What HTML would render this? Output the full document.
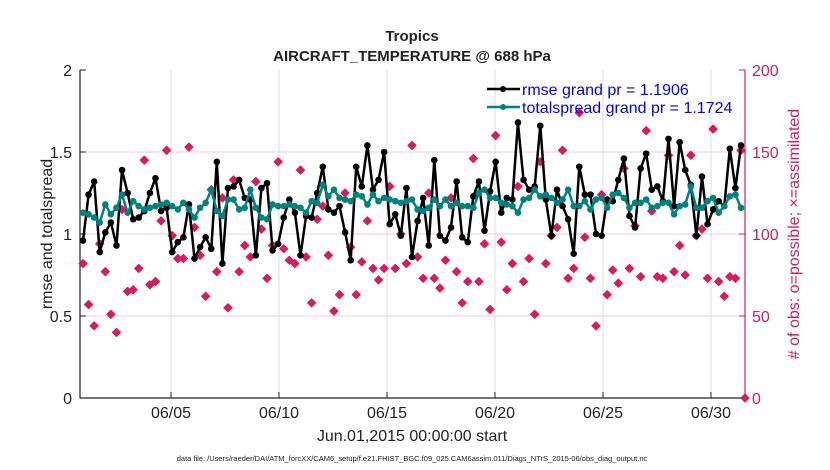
<!DOCTYPE html>
<html><head><meta charset="utf-8"><style>
body{margin:0;background:#fff;}
svg{display:block;font-family:"Liberation Sans",sans-serif;}
</style></head><body>
<svg id="c" width="830" height="470"></svg>
<script>
const rmse=[0.96,1.24,1.32,0.89,1.01,1.07,0.93,1.39,1.25,1.09,1.10,1.14,1.25,1.34,1.14,1.16,0.89,0.95,0.98,1.18,0.85,0.92,0.98,0.91,1.44,0.82,1.28,1.29,1.33,1.22,
1.21,0.87,1.28,1.31,0.90,0.94,1.10,1.21,1.13,0.87,1.11,1.10,1.25,1.41,1.15,1.13,1.17,1.01,0.84,1.41,1.29,1.54,1.27,1.33,1.50,1.06,1.12,0.99,1.28,0.86,1.08,
1.22,0.93,1.45,0.99,0.96,1.04,1.32,0.98,0.95,1.23,1.32,1.02,1.26,1.44,1.13,1.22,1.21,1.68,1.33,1.27,1.29,1.66,1.21,0.99,1.27,1.17,1.09,0.88,1.41,
1.24,1.24,1.00,0.99,1.21,1.20,1.33,1.46,1.11,1.04,1.40,1.49,1.27,1.29,1.20,1.58,1.17,1.56,1.39,1.30,0.99,1.35,1.06,1.15,1.20,1.17,1.52,1.28,1.54];
const spread=[1.13,1.12,1.10,1.07,1.18,1.12,1.16,1.24,1.13,1.20,1.17,1.15,1.16,1.17,1.18,1.19,1.17,1.15,1.19,1.15,1.10,1.16,1.19,1.27,1.14,1.11,1.21,1.21,1.15,1.16,
1.27,1.16,1.10,1.09,1.18,1.17,1.17,1.18,1.17,1.16,1.13,1.20,1.19,1.30,1.23,1.27,1.22,1.21,1.20,1.24,1.23,1.18,1.24,1.20,1.22,1.21,1.20,1.19,1.20,1.21,1.15,
1.14,1.16,1.21,1.17,1.21,1.17,1.19,1.17,1.17,1.16,1.25,1.27,1.22,1.22,1.19,1.18,1.17,1.13,1.21,1.22,1.27,1.23,1.24,1.22,1.19,1.21,1.27,1.17,1.17,
1.20,1.15,1.21,1.22,1.16,1.24,1.25,1.22,1.16,1.19,1.19,1.21,1.16,1.17,1.19,1.19,1.12,1.17,1.18,1.29,1.16,1.16,1.20,1.22,1.13,1.17,1.23,1.24,1.16];
const nobs=[82,57,44,94,77,51,40,115,65,66,79,145,69,71,108,151,99,85,85,153,104,87,62,127,77,122,55,133,77,93,
86,132,103,73,93,144,91,84,82,139,86,58,109,117,87,53,63,125,92,63,83,108,79,72,79,129,79,100,82,154,
86,73,125,73,67,84,122,77,58,71,146,71,94,54,160,95,66,82,129,71,85,51,144,82,99,104,151,73,79,
174,98,73,44,124,63,78,70,140,79,105,74,163,114,74,73,148,77,93,75,148,99,103,73,164,71,62,74,73,151];
const xTickDays=[4,9,14,19,24,29];
const xTickLabels=["06/05","06/10","06/15","06/20","06/25","06/30"];
const yTicks=[0,0.5,1,1.5,2];
const yTickLabels=["0","0.5","1","1.5","2"];
const y2Ticks=[0,50,100,150,200];

const NS="http://www.w3.org/2000/svg",svg=document.getElementById('c');
const L=80,R=745,T=70,B=398;
const X=d=>84.6+21.6*d;
const Y=v=>B-(v/2)*(B-T);
const Y2=v=>B-(v/200)*(B-T);
const PINK="#d81b60";
function mk(tag,a,p){const e=document.createElementNS(NS,tag);for(const k in a)e.setAttribute(k,a[k]);(p||svg).appendChild(e);return e;}
function txt(s,a){const e=mk('text',a);e.textContent=s;return e;}
const tS=(83-84.6)/21.6,tE=(741-84.6)/21.6;
const tAt=(i,n)=>tS+i*(tE-tS)/(n-1);

xTickDays.forEach((d,i)=>{
 const g=mk('line',{x1:X(d),x2:X(d),y1:T,y2:B,stroke:"#dddddd","stroke-width":1});
 
 
 const t=txt(xTickLabels[i],{x:X(d),y:418,"font-size":16,"text-anchor":"middle",fill:"#222"});
 
 
 mk('line',{x1:X(d),x2:X(d),y1:B,y2:B-6,stroke:"#222"});
});
yTicks.forEach((v,i)=>{
 if(v>0&&v<2){const g=mk('line',{x1:L,x2:R,y1:Y(v),y2:Y(v),stroke:"#f6c9d8","stroke-width":1});
 
 }
 mk('line',{x1:L,x2:L+6,y1:Y(v),y2:Y(v),stroke:"#222"});
 const t=txt(yTickLabels[i],{x:L-8,y:Y(v)+6,"font-size":16,"text-anchor":"end",fill:"#222"});
 
 
});
y2Ticks.forEach(v=>{
 mk('line',{x1:R,x2:R-6,y1:Y2(v),y2:Y2(v),stroke:PINK});
 const t=txt(String(v),{x:R+7,y:Y2(v)+6,"font-size":16,fill:PINK});
 
 
});
mk('line',{x1:L,x2:L,y1:T,y2:B,stroke:"#222","stroke-width":1.2});
mk('line',{x1:L,x2:R,y1:B,y2:B,stroke:"#222","stroke-width":1.2});
mk('line',{x1:R,x2:R,y1:T,y2:B,stroke:PINK,"stroke-width":1.2});

function diamond(cx,cy,name){
 const d=mk('path',{d:`M${cx} ${cy-4}L${cx+4} ${cy}L${cx} ${cy+4}L${cx-4} ${cy}Z`,fill:PINK,stroke:PINK,"stroke-width":1.2,"stroke-linejoin":"round"});
 
 
}
nobs.forEach((v,i)=>diamond(X(tAt(i,nobs.length)),Y2(v),'obs-count-point'));
diamond(R,Y2(0),'obs-count-zero');

function series(vals,color,name){
 const n=vals.length;
 const pts=vals.map((v,i)=>X(tAt(i,n)).toFixed(1)+","+Y(v).toFixed(1)).join(" ");
 const pl=mk('polyline',{points:pts,fill:"none",stroke:color,"stroke-width":2.5,"stroke-linejoin":"round"});
 
 
 vals.forEach((v,i)=>{
  const c=mk('circle',{cx:X(tAt(i,n)),cy:Y(v),r:3.3,fill:color});
  
  
 });
}
series(rmse,"#000","rmse");
series(spread,"#00827f","totalspread");

[[89,"#000","rmse grand pr = 1.1906","legend-rmse"],[107,"#00827f","totalspread grand pr = 1.1724","legend-totalspread"]].forEach(r=>{
 mk('line',{x1:487,x2:520,y1:r[0],y2:r[0],stroke:r[1],"stroke-width":2.5});
 mk('circle',{cx:503,cy:r[0],r:3,fill:r[1]});
 const t=txt(r[2],{x:522,y:r[0]+6,"font-size":16,fill:"#0000ff"});
 
 
});

let t=txt("Tropics",{x:412,y:41,"font-size":15,"font-weight":"bold","text-anchor":"middle",fill:"#222"});


t=txt("AIRCRAFT_TEMPERATURE @ 688 hPa",{x:412,y:61,"font-size":15,"font-weight":"bold","text-anchor":"middle",fill:"#222"});


t=txt("rmse and totalspread",{x:0,y:0,"font-size":16,"text-anchor":"middle",fill:"#222",transform:"translate(52,234) rotate(-90)"});


t=txt("# of obs: o=possible; \u00d7=assimilated",{x:0,y:0,"font-size":16,"text-anchor":"middle",fill:PINK,transform:"translate(799,234) rotate(-90)"});


t=txt("Jun.01,2015 00:00:00 start",{x:412,y:441,"font-size":16,"text-anchor":"middle",fill:"#222"});


t=txt("data file: /Users/raeder/DAI/ATM_forcXX/CAM6_setup/f.e21.FHIST_BGC.f09_025.CAM6assim.011/Diags_NTrS_2015-06/obs_diag_output.nc",{x:412,y:461,"font-size":7.5,"text-anchor":"middle",fill:"#222"});


</script>
</body></html>
